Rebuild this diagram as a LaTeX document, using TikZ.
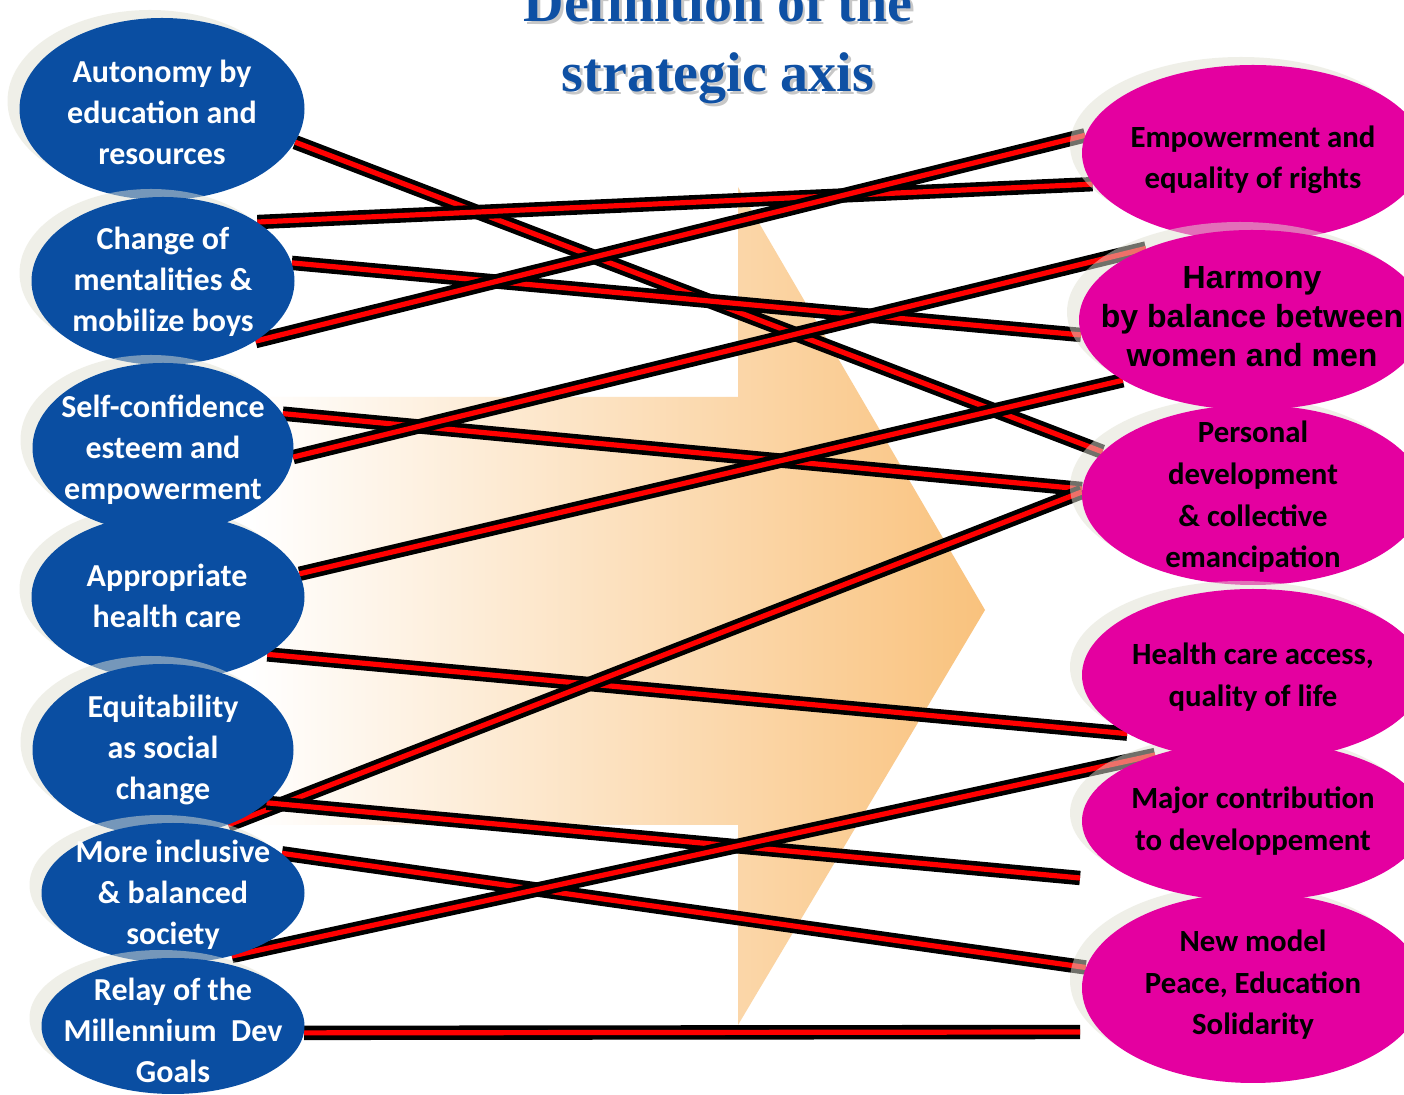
\documentclass[tikz,border=0pt]{standalone}
\usepackage{fontspec}
\newfontfamily\carlito{Carlito}
\newfontfamily\libsans{Liberation Sans}
\newfontfamily\libserif{Liberation Serif}
\usetikzlibrary{shapes.geometric,shadows}
\definecolor{nodeblue}{RGB}{10,78,162}
\definecolor{nodepink}{RGB}{228,0,160}
\definecolor{arroworange}{RGB}{249,194,125}
\definecolor{shadowc}{RGB}{225,225,210}
\definecolor{titleblue}{RGB}{14,80,164}
\pgfdeclarelayer{bg}
\pgfdeclarelayer{wires}
\pgfsetlayers{bg,wires,main}
\begin{document}
\begin{tikzpicture}[x=0.5pt,y=-0.5pt,
  ell/.style={ellipse, inner sep=0pt, draw=none,
    drop shadow={shadow xshift=-6pt, shadow yshift=4pt, fill=shadowc, opacity=0.5}},
  lell/.style={ell, fill=nodeblue},
  rell/.style={ell, fill=nodepink},
  ltxt/.style={text=white, align=center, inner sep=0pt, font=\carlito\bfseries\fontsize{16}{20.5}\selectfont},
  rtxt/.style={text=black, align=center, inner sep=0pt, font=\carlito\bfseries\fontsize{15.4}{20.8}\selectfont},
  htxt/.style={text=black, align=center, inner sep=0pt, font=\libsans\bfseries\fontsize{16}{19.5}\selectfont},
  wire/.style={line width=2.3pt, double=red, double distance=2.6pt},
  ttl/.style={font=\libserif\bfseries\fontsize{28}{35}\selectfont, anchor=base, inner sep=0pt},
]
\useasboundingbox (0,0) rectangle (1404,1095);

% ---------- background arrow ----------
\begin{pgfonlayer}{bg}
  \fill[white] (0,0) rectangle (1404,1095);
  \shade[left color=white, right color=arroworange]
    (250,397) -- (738,397) -- (738,187) -- (985,610) -- (738,1025)
    -- (738,825) -- (250,825) -- cycle;
\end{pgfonlayer}

% ---------- left ellipses ----------
\node[lell, minimum width=142.5pt, minimum height=91pt] (L1) at (162,109) {};
\node[lell, minimum width=131.5pt, minimum height=84pt] (L2) at (163,281) {};
\node[lell, minimum width=136.5pt, minimum height=83pt] (L4) at (168,597) {};
\node[lell, minimum width=130.5pt, minimum height=85pt] (L3) at (163,448) {};
\node[lell, minimum width=130.5pt, minimum height=86pt] (L5) at (163,750) {};
\node[lell, minimum width=131.5pt, minimum height=70pt] (L6) at (173,893) {};
\node[lell, minimum width=131.5pt, minimum height=68pt] (L7) at (173,1026) {};

% ---------- right ellipses ----------
\node[rell, minimum width=171pt, minimum height=88pt] (R1) at (1253,153) {};
\node[rell, minimum width=171pt, minimum height=90pt] (R3) at (1253,495) {};
\node[rell, minimum width=173pt, minimum height=90pt] (R2) at (1252,320) {};
\node[rell, minimum width=171pt, minimum height=95pt] (R6) at (1253,988) {};
\node[rell, minimum width=171pt, minimum height=80pt] (R5) at (1253,821) {};
\node[rell, minimum width=171pt, minimum height=86pt] (R4) at (1253,675) {};

% ---------- texts ----------
\node[ltxt] (L1t) at (162,112) {Autonomy by\\education and\\resources};
\node[ltxt] (L2t) at (163,282) {Change of\\mentalities \&\\mobilize boys};
\node[ltxt] (L3t) at (163,450) {Self-confidence\\esteem and\\empowerment};
\node[ltxt] (L4t) at (167,596) {Appropriate\\health care};
\node[ltxt] (L5t) at (163,750) {Equitability\\as social\\change};
\node[ltxt] (L6t) at (173,895) {More inclusive\\\& balanced\\society};
\node[ltxt] (L7t) at (173,1030) {Relay of the\\Millennium~ Dev\\Goals};

\node[rtxt] (R1t) at (1253,160) {Empowerment and\\equality of rights};
\node[htxt] (R2t) at (1252,317) {Harmony\\by balance between\\women and men};
\node[rtxt] (R3t) at (1253,497) {Personal\\development\\\& collective\\emancipation};
\node[rtxt] (R4t) at (1253,677) {Health care access,\\quality of life};
\node[rtxt] (R5t) at (1253,821) {Major contribution\\to developpement};
\node[rtxt] (R6t) at (1253,985) {New model\\Peace, Education\\Solidarity};

% ---------- title ----------
\node[ttl, text=black!22] at (720.5,24.5) {Definition of the};
\node[ttl, text=titleblue] (title1) at (718,22) {Definition of the};
\node[ttl, text=black!22] at (720.5,94.5) {strategic axis};
\node[ttl, text=titleblue] (title2) at (718,92) {strategic axis};

% ---------- free ends ----------
\coordinate (E5) at (1080,878);
\coordinate (E7) at (1080,1032);

% ---------- connectors ----------
\begin{pgfonlayer}{wires}
  \draw[wire] (L1.346) -- (R3.164);
  \draw[wire] (L2.32)  -- (R1.191);
  \draw[wire] (L2.8)   -- (R2.185);
  \draw[wire] (L2.327) -- (R1.174);
  \draw[wire] (L3.16)  -- (R3.178);
  \draw[wire] (L3.356) -- (R2.146);
  \draw[wire] (L4.10)  -- (R2.205);
  \draw[wire] (L4.330) -- (R4.205);
  \draw[wire] (L5.311) -- (R3.179);
  \draw[wire] (L5.333) -- (E5);
  \draw[wire] (L6.20)  -- (R6.173);
  \draw[wire] (L6.313) -- (R5.146);
  \draw[wire] (L7.357) -- (E7);
\end{pgfonlayer}
\end{tikzpicture}
\end{document}
